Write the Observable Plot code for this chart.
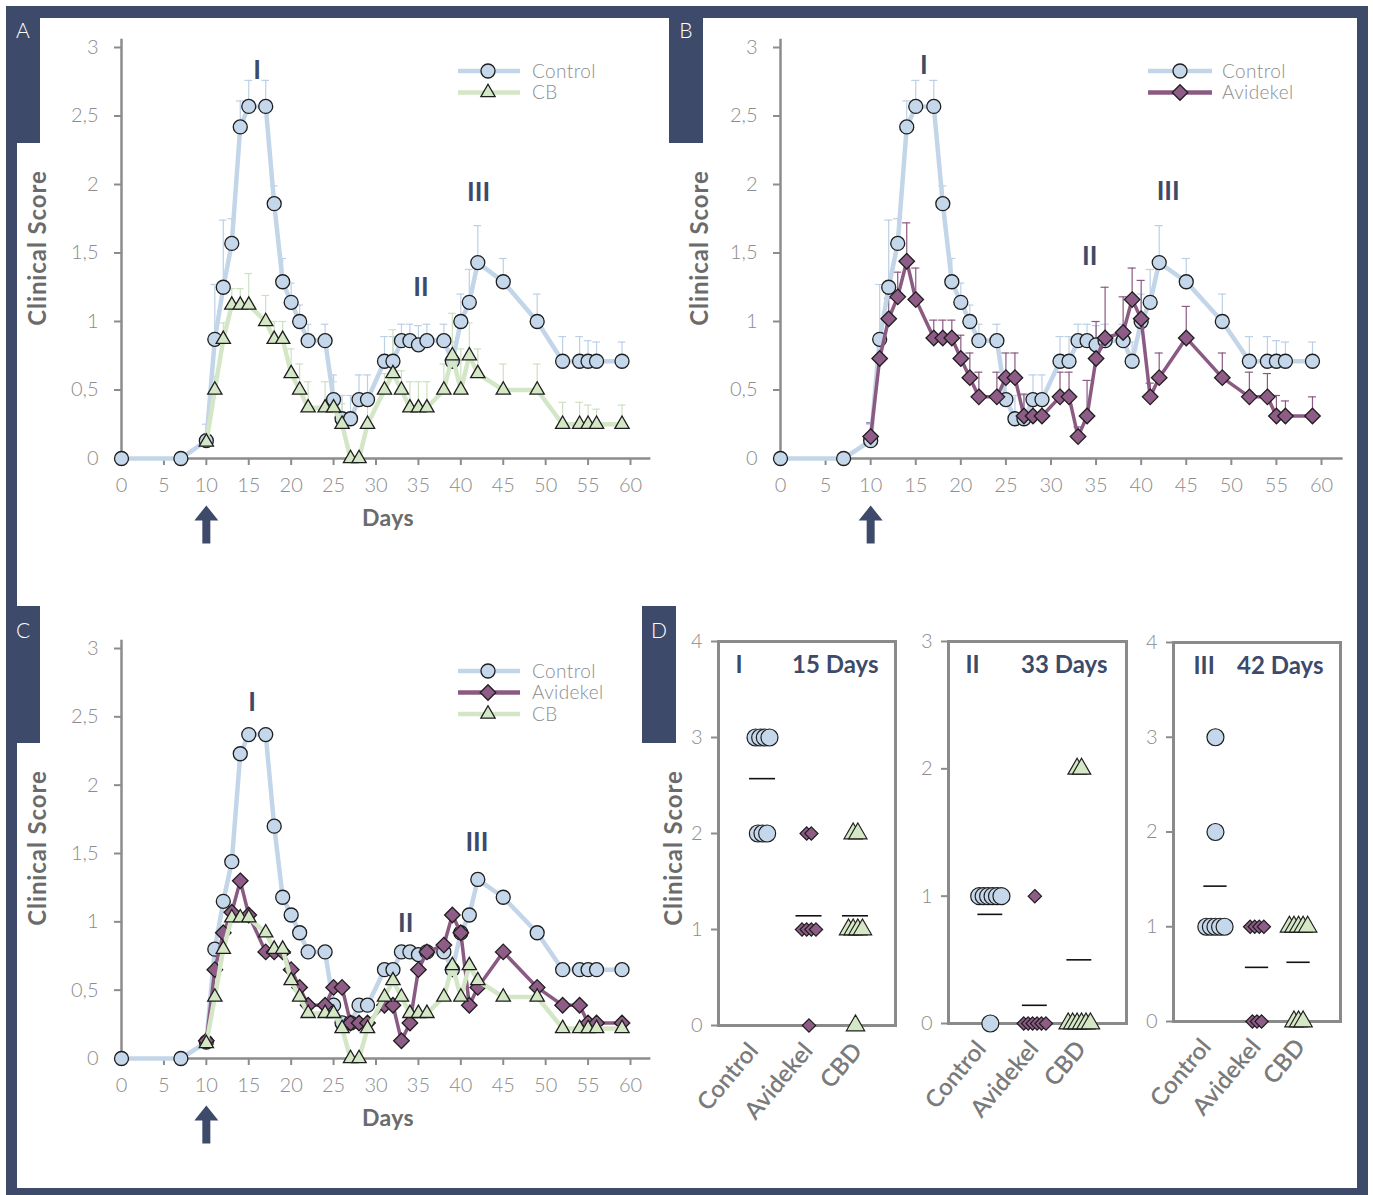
<!DOCTYPE html>
<html>
<head>
<meta charset="utf-8">
<script src="https://cdn.jsdelivr.net/npm/d3@7"></script>
<script src="https://cdn.jsdelivr.net/npm/@observablehq/plot@0.6"></script>
<style>
  body { margin: 0; background: #fff; }
  #wrap { position: relative; width: 1373px; height: 1195px; overflow: hidden; background: #fff; font-family: Lato, "Open Sans", sans-serif; }
  .band { position: absolute; background: #3d4a6a; }
  .tag { position: absolute; background: #3d4a6a; color: #fff; font-weight: 300; font-size: 21px; text-align: center; box-sizing: border-box; padding-top: 13px; line-height: 21px; }
  .panel { position: absolute; }
  .panel svg { overflow: visible; }
  .lbl { position: absolute; font-weight: 700; color: #6b6b6b; font-size: 23px; letter-spacing: 0.4px; white-space: nowrap; transform: translate(-50%, -50%); }
  .rot { font-size: 24px; letter-spacing: 0.9px; transform: translate(-50%, -50%) rotate(-90deg); }
</style>
</head>
<body>
<div id="wrap"></div>
<script>
// ---------------- DATA ----------------
const days = [0,7,10,11,12,13,14,15,17,18,19,20,21,22,24,25,26,27,28,29,31,32,33,34,35,36,38,39,40,41,42,45,49,52,54,55,56,59];
const treatDays = days.slice(2);
const xTicks = [0,5,10,15,20,25,30,35,40,45,50,55,60];
const yTicks = [0,0.5,1,1.5,2,2.5,3];
const treatmentDay = 10;

// Panels A & B – Control (mean, upper SEM)
const controlAB    = [0,0,0.13,0.87,1.25,1.57,2.42,2.57,2.57,1.86,1.29,1.14,1.0,0.86,0.86,0.43,0.29,0.29,0.43,0.43,0.71,0.71,0.86,0.86,0.83,0.86,0.86,0.71,1.0,1.14,1.43,1.29,1.0,0.71,0.71,0.71,0.71,0.71];
const controlABErr = [0,0,0.12,0.4,0.49,0.18,0.19,0.19,0.19,0.13,0.17,0.14,0.12,0.12,0.12,0.18,0.17,0.17,0.18,0.18,0.18,0.18,0.12,0.12,0.14,0.12,0.12,0.14,0.2,0.24,0.27,0.17,0.2,0.18,0.18,0.15,0.14,0.14];
// Panel A – CB
const cbA    = [0.12,0.5,0.87,1.12,1.12,1.12,1.0,0.87,0.87,0.62,0.5,0.37,0.37,0.37,0.25,0,0,0.25,0.5,0.62,0.5,0.37,0.37,0.37,0.5,0.75,0.5,0.75,0.62,0.5,0.5,0.25,0.25,0.25,0.25,0.25];
const cbAErr = [0.05,0.1,0.12,0.12,0.12,0.23,0.19,0.13,0.13,0.18,0.19,0.19,0.19,0.19,0.15,0,0,0.15,0.12,0.32,0.14,0.19,0.19,0.19,0.19,0.31,0.3,0.24,0.18,0.19,0.19,0.16,0.16,0.14,0.11,0.14];
// Panel B – Avidekel
const avidekelB    = [0.16,0.73,1.02,1.18,1.44,1.16,0.88,0.88,0.88,0.73,0.59,0.45,0.45,0.59,0.59,0.31,0.31,0.31,0.45,0.45,0.16,0.31,0.73,0.88,0.92,1.16,1.02,0.45,0.59,0.88,0.59,0.45,0.45,0.31,0.31,0.31];
const avidekelBErr = [0.1,0.14,0.15,0.18,0.28,0.23,0.13,0.13,0.13,0.17,0.18,0.18,0.18,0.18,0.18,0.16,0.16,0.16,0.18,0.18,0.07,0.26,0.27,0.37,0.26,0.23,0.28,0.1,0.18,0.23,0.18,0.18,0.17,0.15,0.11,0.14];
// Panel C
const controlC  = [0,0,0.12,0.8,1.15,1.44,2.23,2.37,2.37,1.7,1.18,1.05,0.92,0.78,0.78,0.39,0.26,0.26,0.39,0.39,0.65,0.65,0.78,0.78,0.76,0.78,0.78,0.65,0.92,1.05,1.31,1.18,0.92,0.65,0.65,0.65,0.65,0.65];
const avidekelC = [0.13,0.65,0.92,1.07,1.3,1.05,0.78,0.78,0.78,0.65,0.52,0.39,0.39,0.52,0.52,0.26,0.26,0.26,0.39,0.39,0.13,0.26,0.65,0.78,0.83,1.05,0.92,0.39,0.52,0.78,0.52,0.39,0.39,0.26,0.26,0.26];
const cbC       = [0.11,0.45,0.8,1.03,1.03,1.03,0.92,0.8,0.8,0.57,0.45,0.33,0.33,0.33,0.22,0,0,0.22,0.45,0.57,0.45,0.33,0.33,0.33,0.45,0.68,0.45,0.68,0.57,0.45,0.45,0.22,0.22,0.22,0.22,0.22];

// Relapse annotations
const annotA = [{label:"I", day:16, value:2.83}, {label:"II", day:35.3, value:1.25}, {label:"III", day:42.1, value:1.94}];
const annotB = [{label:"I", day:15.9, value:2.87}, {label:"II", day:34.3, value:1.47}, {label:"III", day:43, value:1.95}];
const annotC = [{label:"I", day:15.4, value:2.6}, {label:"II", day:33.5, value:0.99}, {label:"III", day:41.9, value:1.58}];

// Panel D – individual scores
const groupNames = ["Control","Avidekel","CBD"];
const day15Control  = [3,3,3,3,2,2,2];
const day15Avidekel = [2,2,1,1,1,1,0];
const day15CBD      = [2,2,1,1,1,1,0];
const day33Control  = [1,1,1,1,1,1,0];
const day33Avidekel = [1,0,0,0,0,0,0];
const day33CBD      = [2,2,0,0,0,0,0,0];
const day42Control  = [3,2,1,1,1,1,1];
const day42Avidekel = [1,1,1,1,0,0,0];
const day42CBD      = [1,1,1,1,1,0,0,0];

// ---------------- STYLE ----------------
const NAVY = "#3d4a6a";
const GRAY = "#8c8c8c";
const FONT = "Lato, 'Open Sans', sans-serif";
const styles = {
  Control:  {fill:"#c5d7ea", line:"#c3d5e8", err:"#bcd0e6", symbol:"circle",   r:7},
  CB:       {fill:"#d5e8c6", line:"#d3e6c6", err:"#cde1c0", symbol:"triangle", r:5.3},
  Avidekel: {fill:"#8e5c86", line:"#8b5a83", err:"#8b5a83", symbol:"diamond2", r:7},
  CBD:      {fill:"#d5e8c6", symbol:"triangle", r:6.8}
};
const symbolMap = {circle: d3.symbolCircle, triangle: d3.symbolTriangle, diamond2: d3.symbolDiamond2};
const labelShift = {Control: -9, Avidekel: -1, CBD: 2};

const wrap = document.getElementById("wrap");
function addDiv(cls, css, html) {
  const d = document.createElement("div");
  d.className = cls;
  Object.assign(d.style, css);
  if (html != null) d.innerHTML = html;
  wrap.appendChild(d);
  return d;
}

// Frame
addDiv("band", {left:"6px", top:"6px", width:"1362px", height:"12px"});
addDiv("band", {left:"6px", top:"6px", width:"11px", height:"1189px"});
addDiv("band", {left:"1357px", top:"6px", width:"11px", height:"1189px"});
addDiv("band", {left:"6px", top:"1188px", width:"1362px", height:"7px"});
addDiv("tag", {left:"6px", top:"6px", width:"34px", height:"137px"}, "A");
addDiv("tag", {left:"669px", top:"6px", width:"34px", height:"137px"}, "B");
addDiv("tag", {left:"6px", top:"606px", width:"34px", height:"137px"}, "C");
addDiv("tag", {left:"642px", top:"606px", width:"34px", height:"137px"}, "D");

function series(name, xs, vals, errs) {
  return xs.map((day, i) => ({series: name, day, value: vals[i], err: errs ? errs[i] : 0}));
}

const arrowSymbol = {
  draw(ctx) {
    ctx.moveTo(0, -19); ctx.lineTo(12, -4); ctx.lineTo(4, -4); ctx.lineTo(4, 19);
    ctx.lineTo(-4, 19); ctx.lineTo(-4, -4); ctx.lineTo(-12, -4); ctx.closePath();
  }
};

function timePanel({left, top, width, height, ml, mr, mt, mb, seriesList, annotations}) {
  const marks = [
    Plot.ruleY([0], {x1: 0, x2: 62.4, stroke: GRAY, strokeWidth: 2.5}),
    Plot.ruleX([0], {y1: 0, y2: 3.06, stroke: GRAY, strokeWidth: 2.5}),
    Plot.axisX({ticks: xTicks, tickSize: 7, tickPadding: 12, strokeWidth: 2, label: null, tickFormat: d => String(d)}),
    Plot.axisY({ticks: yTicks, tickSize: 7, tickPadding: 16, strokeWidth: 2, label: null, tickFormat: d => String(d).replace(".", ",")})
  ];
  for (const s of seriesList) {
    const st = styles[s[0].series];
    const e = s.filter(d => d.err > 0);
    if (e.length) {
      marks.push(Plot.ruleX(e, {x: "day", y1: "value", y2: d => d.value + d.err, stroke: st.err, strokeWidth: 1.2}));
      marks.push(Plot.ruleY(e, {y: d => d.value + d.err, x1: d => d.day - 0.45, x2: d => d.day + 0.45, stroke: st.err, strokeWidth: 1.2}));
    }
  }
  for (const s of seriesList) {
    const st = styles[s[0].series];
    marks.push(Plot.line(s, {x: "day", y: "value", stroke: st.line, strokeWidth: s[0].series === "Avidekel" ? 3.5 : 4.5, strokeLinejoin: "round"}));
    marks.push(Plot.dot(s, {x: "day", y: "value", symbol: st.symbol, r: st.r, fill: st.fill, stroke: "#1e1e1e", strokeWidth: 1.3}));
  }
  marks.push(Plot.text(annotations, {x: "day", y: "value", text: "label", fill: NAVY, fontSize: 26, fontWeight: 700, fontFamily: FONT}));
  marks.push(Plot.dot([treatmentDay], {x: d => d, frameAnchor: "bottom", dy: 66, symbol: arrowSymbol, fill: NAVY, stroke: "none"}));
  const svg = Plot.plot({
    width, height, marginLeft: ml, marginRight: mr, marginTop: mt, marginBottom: mb,
    x: {domain: [0, 60]},
    y: {domain: [0, 3]},
    style: {fontFamily: FONT, fontSize: "20px", fontWeight: "300", color: GRAY, background: "none", overflow: "visible"},
    marks
  });
  const holder = addDiv("panel", {left: left + "px", top: top + "px", width: width + "px", height: height + "px"});
  holder.appendChild(svg);
}

function legend(left, top, names, lineEnd, markerX, textX) {
  const svg = d3.create("svg").attr("width", 200).attr("height", 24 * names.length + 10)
    .style("position", "absolute").style("left", left + "px").style("top", top + "px").style("overflow", "visible");
  names.forEach((n, i) => {
    const st = styles[n];
    const y = 13 + i * 21.5;
    svg.append("line").attr("x1", 3).attr("x2", lineEnd).attr("y1", y).attr("y2", y).attr("stroke", st.line).attr("stroke-width", 4.5);
    svg.append("path").attr("d", d3.symbol(symbolMap[st.symbol], Math.PI * st.r * st.r)())
      .attr("transform", `translate(${markerX},${y})`).attr("fill", st.fill).attr("stroke", "#1e1e1e").attr("stroke-width", 1.3);
    svg.append("text").attr("x", textX).attr("y", y).attr("dy", "0.36em").text(n)
      .attr("fill", GRAY).style("font-family", FONT).style("font-weight", 300).style("font-size", "19px").style("letter-spacing", "0.4px");
  });
  wrap.appendChild(svg.node());
}

// Panel A
timePanel({left: 0, top: 0, width: 680, height: 560, ml: 121, mr: 50, mt: 47, mb: 102,
  seriesList: [series("Control", days, controlAB, controlABErr), series("CB", treatDays, cbA, cbAErr)],
  annotations: annotA});
legend(455, 58, ["Control", "CB"], 65, 33, 77);

// Panel B
timePanel({left: 680, top: 0, width: 680, height: 560, ml: 100, mr: 39, mt: 47, mb: 102,
  seriesList: [series("Control", days, controlAB, controlABErr), series("Avidekel", treatDays, avidekelB, avidekelBErr)],
  annotations: annotB});
legend(1145, 58, ["Control", "Avidekel"], 67, 35, 77);

// Panel C
timePanel({left: 0, top: 600, width: 680, height: 560, ml: 121, mr: 50, mt: 48, mb: 102,
  seriesList: [series("Control", days, controlC), series("Avidekel", treatDays, avidekelC), series("CB", treatDays, cbC)],
  annotations: annotC});
legend(455, 658, ["Control", "Avidekel", "CB"], 65, 33, 77);

// Panel D
function swarmPanel({left, top, width, height, ml, mr, mt, mb, xDomain, yMax, roman, dayText, romanDx, dayDx, scoreSets, step}) {
  const keys = ["Control", "Avidekel", "CBD"];
  const pts = [], means = [];
  scoreSets.forEach((scores, gi) => {
    means.push({cat: gi, mean: d3.mean(scores)});
    const byVal = d3.groups(scores, v => v);
    for (const [v, arr] of byVal) {
      const n = arr.length;
      arr.forEach((_, j) => pts.push({key: keys[gi], cat: gi, x: gi + (j - (n - 1) / 2) * step, value: v}));
    }
  });
  const marks = [
    Plot.frame({stroke: "#8a8a8a", strokeWidth: 3}),
    Plot.axisY({ticks: d3.range(0, yMax + 1), tickSize: 7, tickPadding: 9, strokeWidth: 2, label: null, tickFormat: d => String(d)})
  ];
  keys.forEach(k => {
    const st = styles[k];
    marks.push(Plot.dot(pts.filter(p => p.key === k), {x: "x", y: "value", symbol: st.symbol,
      r: k === "Control" ? 8.5 : k === "Avidekel" ? 6 : 6.8, fill: st.fill, stroke: "#1e1e1e", strokeWidth: 1.2}));
  });
  marks.push(Plot.ruleY(means, {y: "mean", x1: d => d.cat - 0.28, x2: d => d.cat + 0.28, stroke: "#111", strokeWidth: 1.6}));
  groupNames.forEach((name, cat) => {
    marks.push(Plot.text([{name, cat}], {x: "cat", frameAnchor: "bottom", text: "name", rotate: -50,
      textAnchor: "end", lineAnchor: "middle", dx: labelShift[name], dy: 21, fill: "#7a7a7a", fontSize: 24, fontWeight: 600, fontFamily: FONT}));
  });
  marks.push(Plot.text([roman], {text: d => d, frameAnchor: "top-left", textAnchor: "start", lineAnchor: "middle", dx: romanDx, dy: 24,
    fill: NAVY, fontSize: 24, fontWeight: 700, fontFamily: FONT}));
  marks.push(Plot.text([dayText], {text: d => d, frameAnchor: "top-right", textAnchor: "end", lineAnchor: "middle", dx: dayDx, dy: 24,
    fill: NAVY, fontSize: 24, fontWeight: 700, fontFamily: FONT}));
  const svg = Plot.plot({
    width, height, marginLeft: ml, marginRight: mr, marginTop: mt, marginBottom: mb,
    x: {domain: xDomain, axis: null},
    y: {domain: [0, yMax]},
    style: {fontFamily: FONT, fontSize: "20px", fontWeight: "300", color: GRAY, background: "none", overflow: "visible"},
    marks
  });
  const holder = addDiv("panel", {left: left + "px", top: top + "px", width: width + "px", height: height + "px"});
  holder.appendChild(svg);
}

swarmPanel({left: 640, top: 600, width: 265, height: 560, ml: 78, mr: 10, mt: 41, mb: 135,
  xDomain: [-0.946, 2.86], yMax: 4, roman: "I", dayText: "15 Days", romanDx: 17, dayDx: -17,
  scoreSets: [day15Control, day15Avidekel, day15CBD], step: 0.1});
swarmPanel({left: 905, top: 600, width: 230, height: 560, ml: 43, mr: 9, mt: 41, mb: 137,
  xDomain: [-0.94, 3.06], yMax: 3, roman: "II", dayText: "33 Days", romanDx: 17, dayDx: -19,
  scoreSets: [day33Control, day33Avidekel, day33CBD], step: 0.1});
swarmPanel({left: 1135, top: 600, width: 215, height: 560, ml: 38, mr: 10, mt: 42, mb: 139,
  xDomain: [-1.01, 3.01], yMax: 4, roman: "III", dayText: "42 Days", romanDx: 20, dayDx: -17,
  scoreSets: [day42Control, day42Avidekel, day42CBD], step: 0.11});

// Axis titles
addDiv("lbl", {left: "388px", top: "517px"}, "Days");
addDiv("lbl", {left: "388px", top: "1117px"}, "Days");
addDiv("lbl rot", {left: "36px", top: "248px"}, "Clinical Score");
addDiv("lbl rot", {left: "698px", top: "248px"}, "Clinical Score");
addDiv("lbl rot", {left: "36px", top: "848px"}, "Clinical Score");
addDiv("lbl rot", {left: "672px", top: "848px"}, "Clinical Score");
</script>
</body>
</html>
